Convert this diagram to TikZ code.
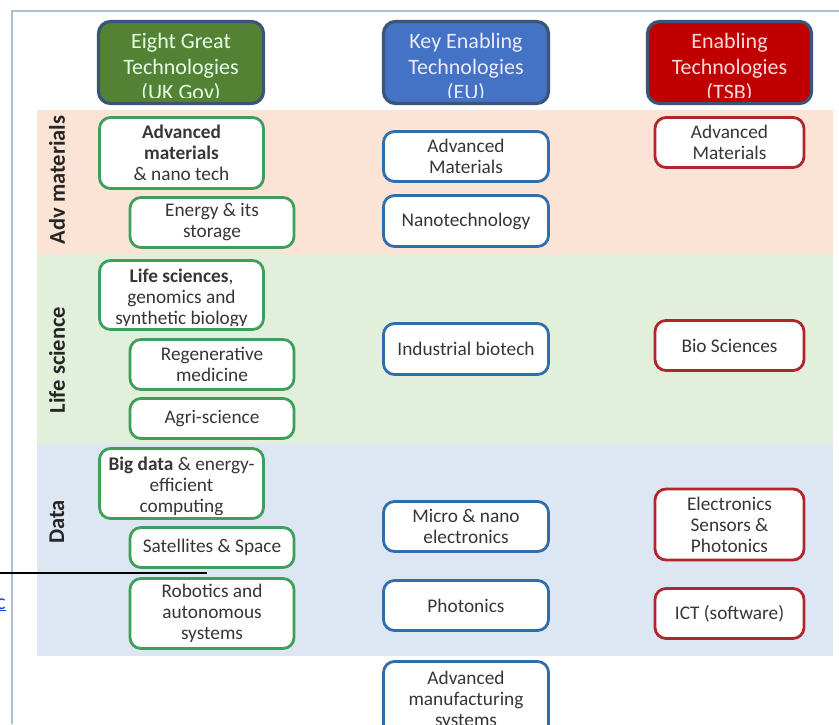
\documentclass[tikz,border=0pt]{standalone}
\usepackage{fontspec}
\setmainfont{Carlito}
\definecolor{peach}{HTML}{FBE3D6}
\definecolor{lgreen}{HTML}{E2EFDA}
\definecolor{lblue}{HTML}{DDE7F3}
\definecolor{hdrline}{HTML}{3A5578}
\definecolor{hgreen}{HTML}{548235}
\definecolor{hblue}{HTML}{4472C4}
\definecolor{hred}{HTML}{C00000}
\definecolor{gline}{HTML}{3E9F5A}
\definecolor{bline}{HTML}{2F6EAA}
\definecolor{rline}{HTML}{B0262A}
\definecolor{txt}{HTML}{363636}
\definecolor{framec}{HTML}{A9C0D0}
\definecolor{linkblue}{HTML}{1A3EE8}
\newcommand{\boxfont}{\fontsize{19.3}{21}\selectfont}
\newcommand{\hdrfont}{\fontsize{22}{25.3}\selectfont}
\begin{document}
\begin{tikzpicture}[x=1pt,y=-1pt,
  hdr/.style={draw=hdrline, line width=3.2pt, rounded corners=12pt, minimum width=165pt, minimum height=82pt, inner sep=0pt},
  hdrtext/.style={align=center, font=\hdrfont, inner sep=0pt},
  tbox/.style={fill=white, line width=2.8pt, rounded corners=11pt, inner sep=0pt, align=center, font=\boxfont, text=txt},
  gbox/.style={tbox, draw=gline, minimum width=164pt},
  bbox/.style={tbox, draw=bline, minimum width=165pt},
  rbox/.style={tbox, draw=rline, minimum width=149pt},
  rowlabel/.style={rotate=90, font=\fontsize{22.5}{26}\selectfont\bfseries, text=black!85, inner sep=0pt}]
\useasboundingbox (0,0) rectangle (839,724);
\fill[white] (0,0) rectangle (839,724);
% frame
\coordinate (f1) at (12,724);
\coordinate (f2) at (12,11);
\coordinate (f3) at (839,11);
\draw[framec, line width=1.3pt] (f1) -- (f2) -- (f3);
% bands
\fill[peach] (37,110) rectangle (833,254);
\fill[lgreen] (37,254) rectangle (833,444);
\fill[lblue] (37,444) rectangle (833,656);
% stray line and link
\coordinate (s1) at (0,573);
\coordinate (s2) at (207,573);
\draw[black, line width=1.5pt] (s1) -- (s2);
\node[text=linkblue, font=\fontsize{22}{24}\selectfont, anchor=base east, inner sep=0pt] (lnk) at (6,609) {\underline{c}};
% headers
\node[hdr, fill=hgreen] (h1) at (181,62.5) {};
\begin{scope}\clip (100,22) rectangle (262,97);
\node[hdrtext, text=green!10!white] (h1t) at (181,68) {Eight Great\\Technologies\\(UK Gov)};
\end{scope}
\node[hdr, fill=hblue] (h2) at (466,62.5) {};
\begin{scope}\clip (385,22) rectangle (547,97);
\node[hdrtext, text=blue!8!white] (h2t) at (466,68) {Key Enabling\\Technologies\\(EU)};
\end{scope}
\node[hdr, fill=hred, minimum width=164pt] (h3) at (729.5,62.5) {};
\begin{scope}\clip (649,22) rectangle (810,97);
\node[hdrtext, text=red!15!white] (h3t) at (729.5,68) {Enabling\\Technologies\\(TSB)};
\end{scope}
% row labels
\node[rowlabel] (ra) at (57,180) {Adv materials};
\node[rowlabel] (rl) at (57,360) {Life science};
\node[rowlabel] (rd) at (57,522) {Data};
% green column
\node[gbox, minimum height=71pt] (g1) at (181.5,153) {\textbf{Advanced}\\\textbf{materials}\\\& nano tech};
\node[gbox, minimum height=50pt] (g2) at (212,222.5) {Energy \& its\\storage};
\node[gbox, minimum height=69pt] (g3) at (181.5,295) {};
\begin{scope}\clip (100,262) rectangle (263,325);
\node[align=center, font=\boxfont, text=txt, inner sep=0pt] (g3t) at (181.5,298) {\textbf{Life sciences},\\genomics and\\synthetic biology};
\end{scope}
\node[gbox, minimum height=50pt] (g4) at (212,364.5) {Regenerative\\medicine};
\node[gbox, minimum height=40pt] (g5) at (212,418.5) {Agri-science};
\node[gbox, minimum height=70pt] (g6) at (181.5,483.5) {};
\begin{scope}\clip (100,450) rectangle (263,514);
\node[align=center, font=\boxfont, text=txt, inner sep=0pt] (g6t) at (181.5,486) {\textbf{Big data} \& energy-\\efficient\\computing};
\end{scope}
\node[gbox, minimum height=40pt] (g7) at (212,547.5) {Satellites \& Space};
\node[gbox, minimum height=70pt] (g8) at (212,613.5) {Robotics and\\autonomous\\systems};
% blue column
\node[bbox, minimum height=50pt] (b1) at (466,156.5) {Advanced\\Materials};
\node[bbox, minimum height=51pt] (b2) at (466,221) {Nanotechnology};
\node[bbox, minimum height=51pt] (b3) at (466,349) {Industrial biotech};
\node[bbox, minimum height=50pt] (b4) at (466,526.5) {Micro \& nano\\electronics};
\node[bbox, minimum height=50pt] (b5) at (466,605.5) {Photonics};
\node[bbox, minimum height=78pt] (b6) at (466,700.5) {Advanced\\manufacturing\\systems};
% red column
\node[rbox, minimum height=50pt] (r1) at (729.5,142.5) {Advanced\\Materials};
\node[rbox, minimum height=50pt] (r2) at (729.5,345.5) {Bio Sciences};
\node[rbox, minimum height=71pt] (r3) at (729.5,524.5) {Electronics\\Sensors \&\\Photonics};
\node[rbox, minimum height=50pt] (r4) at (729.5,613.5) {ICT (software)};
\end{tikzpicture}
\end{document}
